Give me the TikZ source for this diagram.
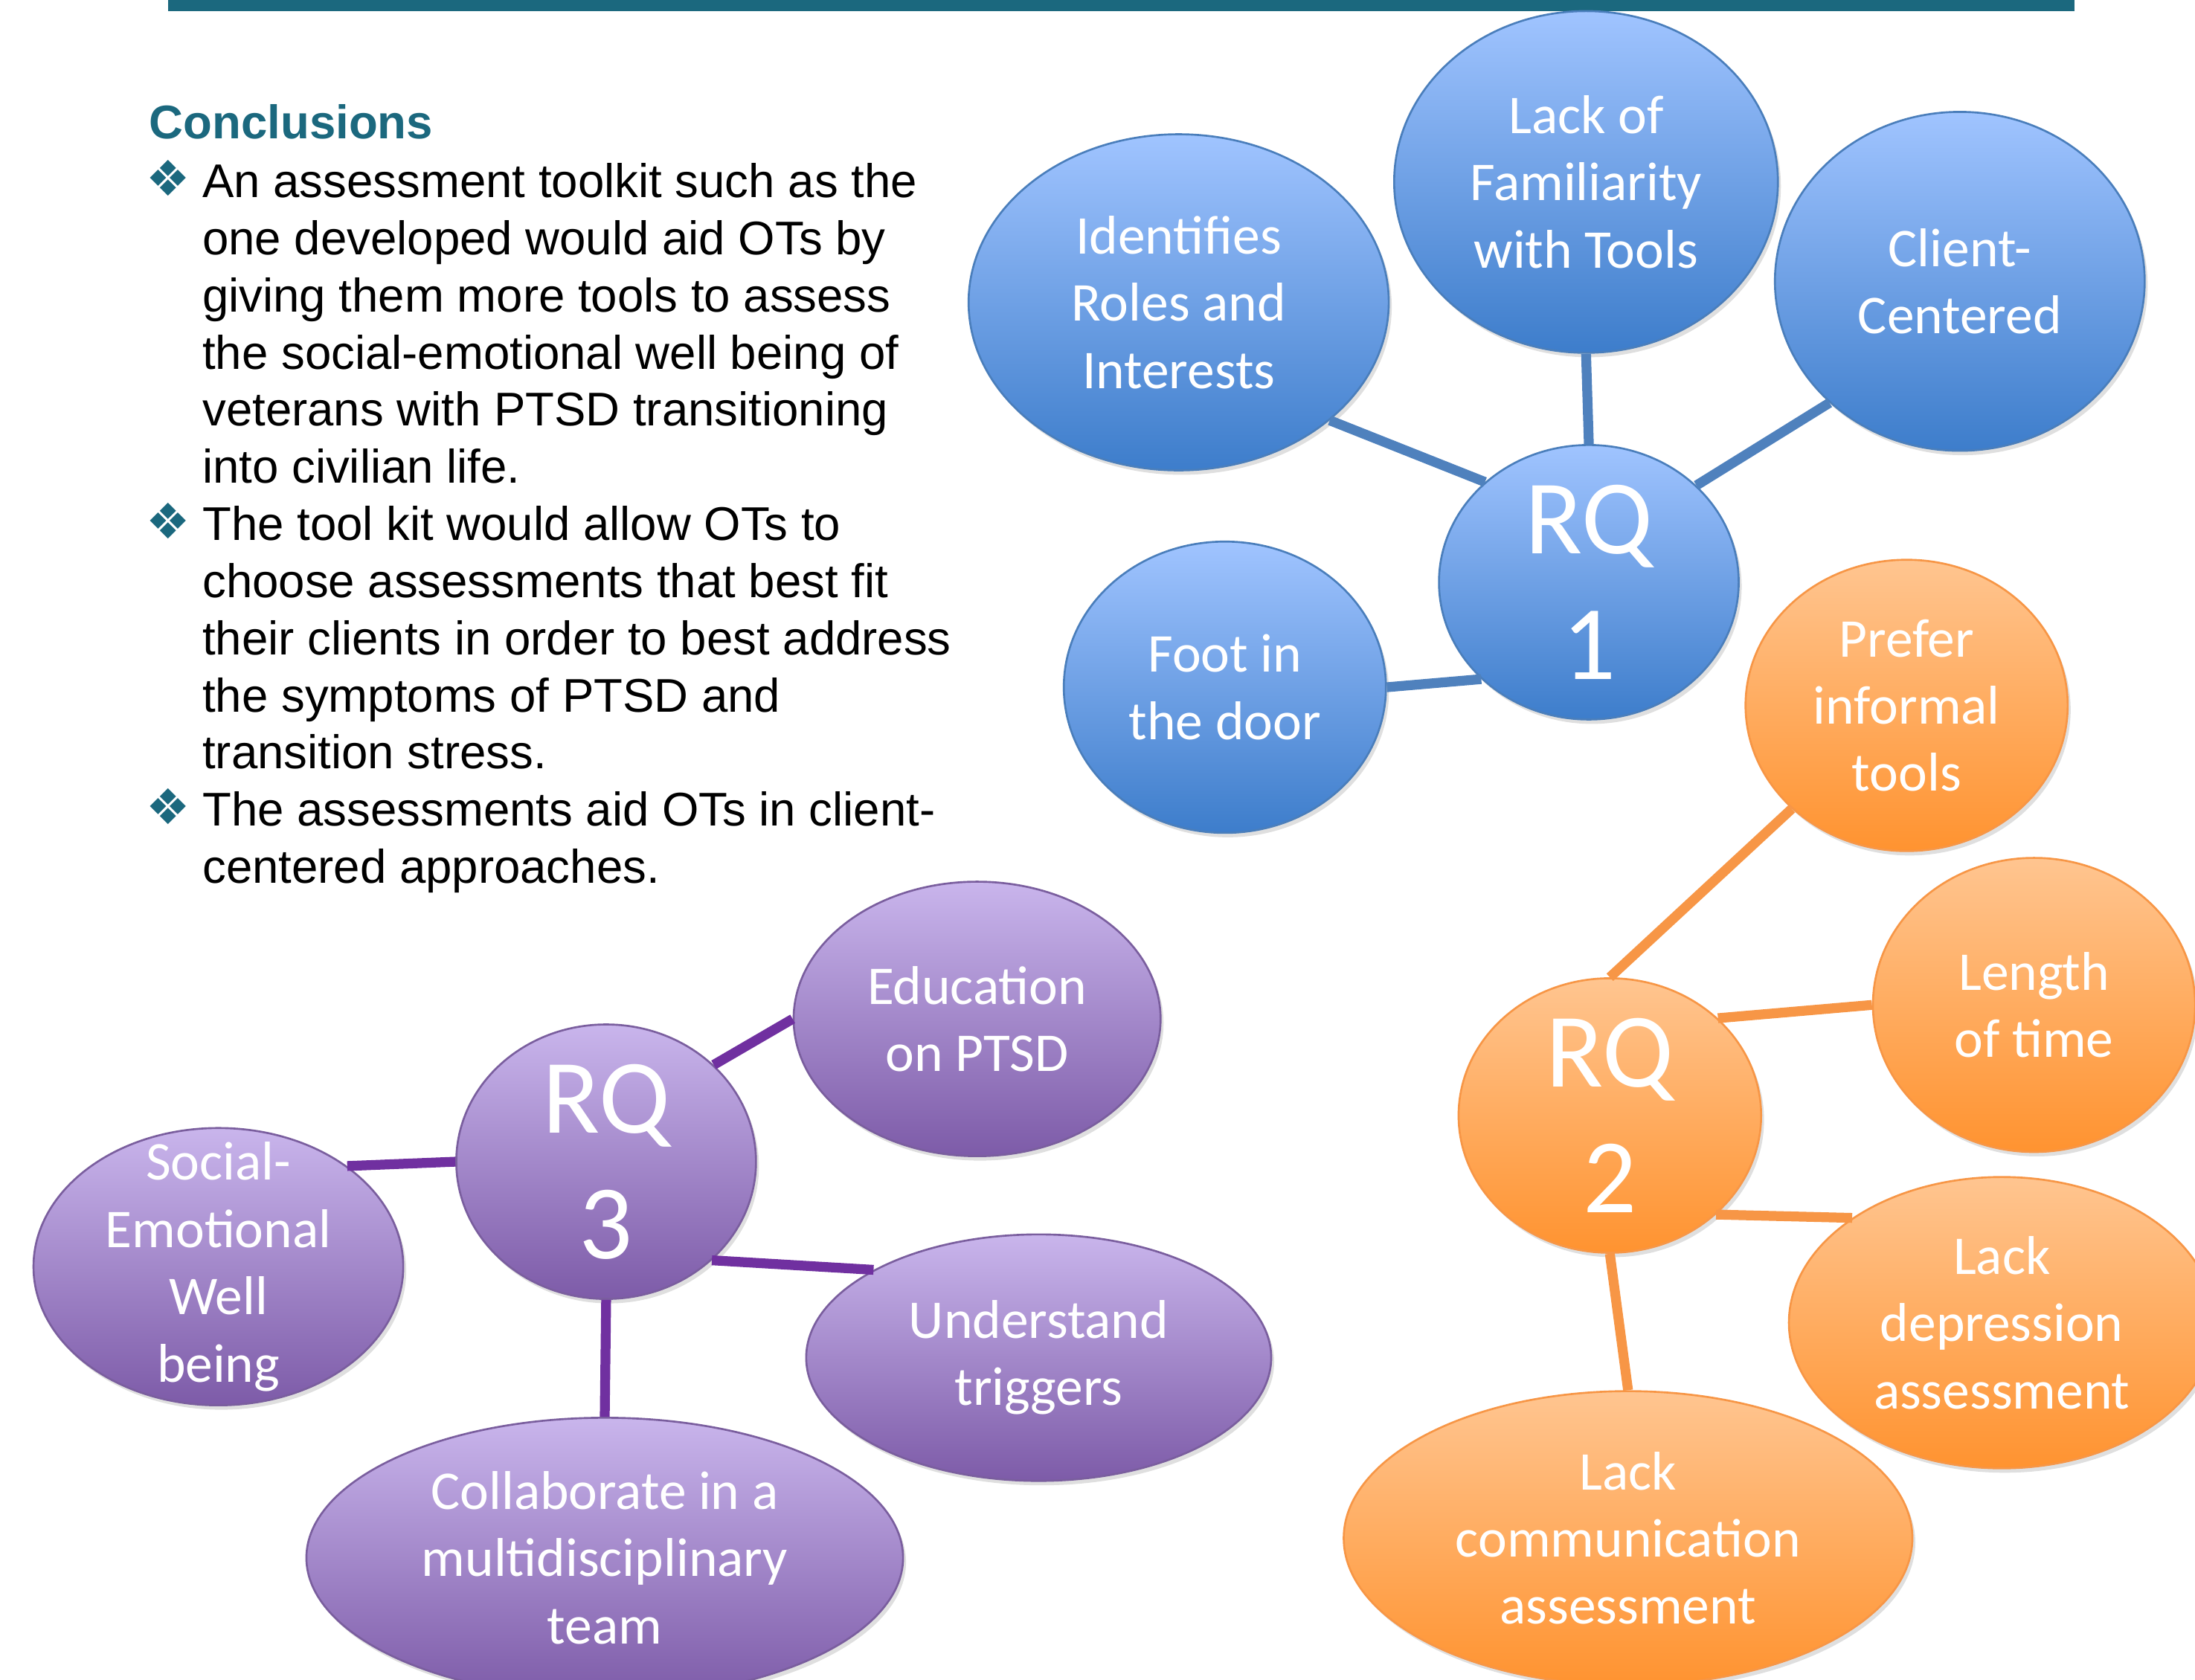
\documentclass[tikz,border=0pt]{standalone}
\usepackage{fontspec}
\setmainfont{Liberation Sans}
\newfontfamily\calibfont{Carlito}
\newfontfamily\symfont{DejaVu Sans}
\usepackage{xcolor}
\usetikzlibrary{shapes.geometric,shadows}
\definecolor{barteal}{HTML}{1B687E}
\definecolor{bluetop}{HTML}{A0C4FF}
\definecolor{bluebot}{HTML}{3D7DCB}
\definecolor{blueline}{HTML}{4A7EBB}
\definecolor{bluelink}{HTML}{4F81BD}
\definecolor{orangetop}{HTML}{FFC590}
\definecolor{orangebot}{HTML}{FF9330}
\definecolor{orangeline}{HTML}{F79646}
\definecolor{orangelink}{HTML}{F79646}
\definecolor{purpletop}{HTML}{C9B5EC}
\definecolor{purplebot}{HTML}{7D5BA8}
\definecolor{purpleline}{HTML}{7A5E9E}
\definecolor{purplelink}{HTML}{7030A0}

\begin{document}
\begin{tikzpicture}[x=0.01cm,y=-0.01cm]
\tikzset{
  bubble/.style={ellipse,draw,thin,inner sep=0pt,
    drop shadow={opacity=0.25,shadow xshift=0.6pt,shadow yshift=-0.9pt}},
  bubble text/.style={align=center,text=white,inner sep=0pt,
    font=\calibfont\fontsize{11.1}{13.66}\selectfont},
  rq text/.style={bubble text,font=\calibfont\fontsize{21.5}{25.6}\selectfont},
  rq1 bubble/.style={bubble,draw=blueline,top color=bluetop,bottom color=bluebot},
  rq2 bubble/.style={bubble,draw=orangeline,top color=orangetop,bottom color=orangebot},
  rq3 bubble/.style={bubble,draw=purpleline,top color=purpletop,bottom color=purplebot},
  rq1 link/.style={draw=bluelink,line width=2pt},
  rq2 link/.style={draw=orangelink,line width=2pt},
  rq3 link/.style={draw=purplelink,line width=2pt},
  body text/.style={anchor=north west,align=left,inner sep=0pt,
    font=\fontsize{9.6}{11.6}\selectfont},
  bullet mark/.style={text=barteal,inner sep=0pt,font=\symfont\fontsize{10}{12}\selectfont},
}
\useasboundingbox (0,0) rectangle (1568,1200);
\clip (0,0) rectangle (1568,1200);

% title bar and conclusions
\fill[barteal] (120,0) rectangle (1482,8);
\node[anchor=base west,inner sep=0pt,text=barteal,font=\bfseries\fontsize{9.6}{11.6}\selectfont] (concl) at (106,99) {Conclusions};
\node[bullet mark] (b1) at (120,127) {❖};
\node[body text] (t1) at (144,116) {An assessment toolkit such as the\\one developed would aid OTs by\\giving them more tools to assess\\the social-emotional well being of\\veterans with PTSD transitioning\\into civilian life.};
\node[bullet mark] (b2) at (120,372) {❖};
\node[body text] (t2) at (144,361) {The tool kit would allow OTs to\\choose assessments that best fit\\their clients in order to best address\\the symptoms of PTSD and\\transition stress.};
\node[bullet mark] (b3) at (120,576) {❖};
\node[body text] (t3) at (144,565) {The assessments aid OTs in client-\\centered approaches.};

% RQ 1
\node[rq1 bubble,minimum width=3.00cm,minimum height=2.40cm,label={[bubble text]center:{Identifies\\Roles and\\Interests}}] (idr) at (842,216) {};
\node[rq1 bubble,minimum width=2.74cm,minimum height=2.44cm,label={[bubble text]center:{Lack of\\Familiarity\\with Tools}}] (lft) at (1133,130) {};
\node[rq1 bubble,minimum width=2.64cm,minimum height=2.42cm,label={[bubble text]center:{Client-\\Centered}}] (cc) at (1400,201) {};
\node[rq1 bubble,minimum width=2.30cm,minimum height=2.08cm,label={[bubble text]center:{Foot in\\the door}}] (fid) at (875,491) {};
\node[rq1 bubble,minimum width=2.14cm,minimum height=1.96cm,label={[rq text]center:{RQ\\1}}] (rq1) at (1135,416) {};
\draw[rq1 link] (idr.-38) -- (rq1.136);
\draw[rq1 link] (lft.-90) -- (rq1.90);
\draw[rq1 link] (cc.223) -- (rq1.42);
\draw[rq1 link] (fid.0) -- (rq1.222);

% RQ 2
\node[rq2 bubble,minimum width=2.30cm,minimum height=2.08cm,label={[bubble text]center:{Prefer\\informal\\tools}}] (pit) at (1362,504) {};
\node[rq2 bubble,minimum width=2.30cm,minimum height=2.10cm,label={[bubble text]center:{Length\\of time}}] (lot) at (1453,718) {};
\node[rq2 bubble,minimum width=3.04cm,minimum height=2.08cm,label={[bubble text]center:{Lack\\depression\\assessment}}] (lda) at (1430,945) {};
\node[rq2 bubble,minimum width=4.06cm,minimum height=2.10cm,label={[bubble text]center:{Lack\\communication\\assessment}}] (lca) at (1163,1099) {};
\node[rq2 bubble,minimum width=2.16cm,minimum height=1.96cm,label={[rq text]center:{RQ\\2}}] (rq2) at (1150,797) {};
\draw[rq2 link] (pit.222) -- (rq2.90);
\draw[rq2 link] (lot.180) -- (rq2.42);
\draw[rq2 link] (lda.145) -- (rq2.-43);
\draw[rq2 link] (lca.90) -- (rq2.-90);

% RQ 3
\node[rq3 bubble,minimum width=2.62cm,minimum height=1.96cm,label={[bubble text]center:{Education\\on PTSD}}] (edu) at (698,728) {};
\node[rq3 bubble,minimum width=2.64cm,minimum height=1.98cm,label={[bubble text]center:{Social-\\Emotional\\Well\\being}}] (sew) at (156,905) {};
\node[rq3 bubble,minimum width=3.32cm,minimum height=1.76cm,label={[bubble text]center:{Understand\\triggers}}] (ut) at (742,970) {};
\node[rq3 bubble,minimum width=4.26cm,minimum height=2.00cm,label={[bubble text]center:{Collaborate in a\\multidisciplinary\\team}}] (cmt) at (432,1113) {};
\node[rq3 bubble,minimum width=2.14cm,minimum height=1.96cm,label={[rq text]center:{RQ\\3}}] (rq3) at (433,830) {};
\draw[rq3 link] (edu.180) -- (rq3.42);
\draw[rq3 link] (sew.38) -- (rq3.180);
\draw[rq3 link] (ut.152) -- (rq3.-43);
\draw[rq3 link] (cmt.90) -- (rq3.-90);
\end{tikzpicture}
\end{document}
